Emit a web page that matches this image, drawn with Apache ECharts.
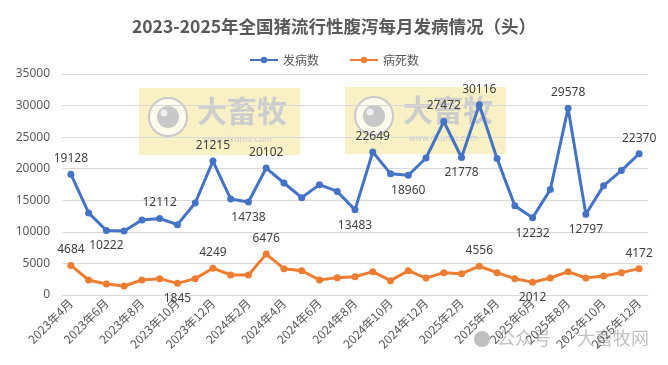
<!DOCTYPE html>
<html><head><meta charset="utf-8">
<script src="https://cdn.jsdelivr.net/npm/echarts@6/dist/echarts.min.js"></script>
<style>html,body{margin:0;padding:0;background:#fff}#c{width:668px;height:365px}</style>
</head><body><div id="c"></div>
<script>
var months = ['2023年4月','2023年5月','2023年6月','2023年7月','2023年8月','2023年9月','2023年10月','2023年11月','2023年12月',
'2024年1月','2024年2月','2024年3月','2024年4月','2024年5月','2024年6月','2024年7月','2024年8月','2024年9月','2024年10月','2024年11月','2024年12月',
'2025年1月','2025年2月','2025年3月','2025年4月','2025年5月','2025年6月','2025年7月','2025年8月','2025年9月','2025年10月','2025年11月','2025年12月'];
var cases = [19128,13000,10222,10150,11880,12112,11140,14570,21215,15200,14738,20102,17740,15420,17480,16400,13483,22649,19220,18960,21700,27472,21778,30116,21600,14150,12232,16690,29578,12797,17320,19700,22370];
var deaths = [4684,2380,1740,1430,2380,2590,1845,2590,4249,3170,3170,6476,4170,3850,2380,2750,2900,3700,2270,3850,2690,3540,3380,4556,3540,2590,2012,2690,3700,2690,3010,3540,4172];
var casesLabelPos = ['top',null,'bottom',null,null,'top',null,null,'top',null,'bottom','top',null,null,null,null,'bottom','top',null,'bottom',null,'top','bottom','top',null,null,'bottom',null,'top','bottom',null,null,'top'];
var deathsLabelPos = ['top',null,null,null,null,null,'bottom',null,'top',null,null,'top',null,null,null,null,null,null,null,null,null,null,null,'top',null,null,'bottom',null,null,null,null,null,'top'];
var yTicks = {min:0, max:35000, interval:5000};

function build(vals, pos){
  return vals.map(function(v,i){
    var p = pos[i];
    return {value:v, label:{show:!!p, position:p||'top'}};
  });
}
var chart = echarts.init(document.getElementById('c'));
var wm = function(x,y){
  return {type:'group', left:x, top:y, z:0, children:[
    {type:'rect', shape:{x:0,y:0,width:161,height:67}, style:{fill:'rgba(240,230,150,0.55)'}},
    {type:'circle', shape:{cx:29,cy:29,r:19}, style:{fill:'rgba(255,255,255,0.7)', stroke:'#c9c9c9', lineWidth:2}},
    {type:'circle', shape:{cx:29,cy:29,r:11}, style:{fill:'#c8c8c8'}},
    {type:'circle', shape:{cx:25,cy:25,r:3.5}, style:{fill:'#f0f0f0'}},
    {type:'text', x:58, y:8, style:{text:'大畜牧', font:'bold 30px "Noto Sans CJK SC"', fill:'#cdcdcd'}},
    {type:'text', x:64, y:48, style:{text:'www.dxumu.com', font:'8px "DejaVu Sans"', fill:'#cfcfcf'}}
  ]};
};
chart.setOption({
  animation:false,
  title:{text:'2023-2025年全国猪流行性腹泻每月发病情况（头）', left:'center', top:13,
    textStyle:{fontSize:17.5, fontWeight:'bold', color:'#595959', fontFamily:'"Noto Sans CJK SC"'}},
  legend:{top:49, left:'center', itemWidth:28, itemHeight:8, itemGap:30,
    textStyle:{color:'#595959', fontSize:12, fontFamily:'"Noto Sans CJK SC"'},
    data:['发病数','病死数']},
  grid:{left:62, right:20, top:74, bottom:70},
  xAxis:{type:'category', data:months, boundaryGap:true,
    axisLine:{lineStyle:{color:'#d9d9d9'}}, axisTick:{show:false},
    axisLabel:{rotate:45, interval:1, color:'#595959', fontSize:12, margin:6, fontFamily:'"Noto Sans CJK SC"'}},
  yAxis:{type:'value', min:yTicks.min, max:yTicks.max, interval:yTicks.interval,
    axisLine:{show:false}, axisTick:{show:false},
    axisLabel:{color:'#595959', fontSize:12, margin:12, fontFamily:'"Noto Sans"', formatter:function(v){return String(v);}},
    splitLine:{lineStyle:{color:'#d9d9d9'}}},
  graphic:[wm(139,88), wm(345,87),
    {type:'group', left:474, top:329, z:100, children:[
      {type:'circle', shape:{cx:9,cy:10,r:8}, style:{fill:'rgba(150,150,150,0.6)'}},
      {type:'text', x:24, y:0, style:{text:'公众号 · 大畜牧网', font:'18px "Noto Sans CJK SC"', fill:'rgba(150,150,150,0.6)'}}
    ]}],
  series:[
    {name:'发病数', type:'line', data:build(cases, casesLabelPos), symbol:'circle', symbolSize:7,
      itemStyle:{color:'#4472C4'}, lineStyle:{width:3, color:'#4472C4'},
      label:{color:'#404040', fontSize:12, distance:6, fontFamily:'"Noto Sans"', formatter:function(p){return String(p.value);}}, z:3},
    {name:'病死数', type:'line', data:build(deaths, deathsLabelPos), symbol:'circle', symbolSize:7,
      itemStyle:{color:'#ED7D31'}, lineStyle:{width:3, color:'#ED7D31'},
      label:{color:'#404040', fontSize:12, distance:6, fontFamily:'"Noto Sans"', formatter:function(p){return String(p.value);}}, z:3}
  ]
});
</script></body></html>
